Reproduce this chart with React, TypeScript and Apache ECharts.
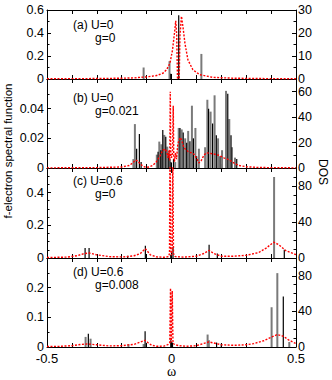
import React, { useEffect, useRef } from 'react';
import * as echarts from 'echarts';

// ---------- data ----------
const xTicksMajor = [-0.5, 0, 0.5];

// (a) U=0, g=0
const aBlack = [[-0.003, 0.045], [0.029, 0.555]];
const aGray = [[-0.112, 0.1], [-0.008, 0.155], [0.12, 0.218]];
const aDos = [
  [-0.5, 0.1], [-0.3, 0.2], [-0.2, 0.35], [-0.15, 0.5], [-0.1, 0.9], [-0.06, 1.5], [-0.033, 2.6],
  [-0.02, 4.0], [-0.006, 6.9], [0.004, 12.6], [0.012, 20], [0.017, 25.3], [0.021, 19], [0.024, 0.3],
  [0.031, 0.3], [0.034, 19], [0.04, 27.3], [0.046, 22.7], [0.054, 15.5], [0.066, 8.3], [0.086, 4.0],
  [0.113, 1.9], [0.166, 0.7], [0.247, 0.35], [0.35, 0.2], [0.5, 0.1],
];

// (b) U=0, g=0.021
const bBlack = [
  [-0.14, 0.013], [-0.129, 0.023], [-0.122, 0.004],
  [-0.054, 0.011], [-0.043, 0.012], [-0.035, 0.0257], [-0.023, 0.021], [-0.011, 0.01], [-0.002, 0.004],
  [0.008, 0.006], [0.034, 0.027], [0.047, 0.024], [0.061, 0.017], [0.074, 0.018], [0.088, 0.02], [0.101, 0.008],
  [0.149, 0.04], [0.165, 0.03], [0.18, 0.022], [0.195, 0.008], [0.226, 0.05], [0.239, 0.022], [0.262, 0.006],
];
const bGray = [
  [-0.153, 0.006], [-0.147, 0.0296],
  [-0.059, 0.009], [-0.049, 0.0178], [-0.041, 0.016], [-0.029, 0.0223], [-0.017, 0.0144], [-0.006, 0.006],
  [0.015, 0.004], [0.029, 0.027], [0.041, 0.026], [0.055, 0.02], [0.067, 0.025], [0.082, 0.042], [0.096, 0.027], [0.11, 0.013],
  [0.135, 0.014], [0.144, 0.046], [0.157, 0.038], [0.173, 0.049], [0.187, 0.02], [0.203, 0.012],
  [0.219, 0.052], [0.232, 0.033], [0.243, 0.014], [0.255, 0.007],
];
const bDos = [
  [-0.5, 0.1], [-0.3, 0.3], [-0.2, 0.8], [-0.17, 2], [-0.155, 4], [-0.145, 6.3], [-0.135, 5.5], [-0.125, 3],
  [-0.11, 1], [-0.1, 0.5], [-0.09, 0.8], [-0.075, 2], [-0.06, 5], [-0.045, 10], [-0.035, 14], [-0.025, 15],
  [-0.018, 12], [-0.014, 8], [-0.01, 14], [-0.007, 6], [-0.005, 60], [-0.003, 10], [0.0, 8], [0.004, 12],
  [0.007, 49], [0.009, 10], [0.012, 5], [0.016, 12], [0.02, 7], [0.025, 18], [0.03, 22], [0.036, 24],
  [0.042, 21], [0.05, 16], [0.06, 14], [0.07, 12.5], [0.08, 12], [0.09, 11], [0.1, 8], [0.11, 4], [0.12, 6],
  [0.13, 10], [0.14, 12], [0.155, 11.5], [0.17, 11], [0.19, 10], [0.21, 8], [0.23, 6.5], [0.25, 4],
  [0.27, 2], [0.3, 1], [0.35, 0.4], [0.5, 0.1],
];

// (c) U=0.6, g=0
const cBlack = [
  [-0.347, 0.061], [-0.331, 0.061], [-0.176, 0.014], [-0.105, 0.075], [-0.003, 0.02], [0.006, 0.065],
  [0.151, 0.081], [0.184, 0.027], [0.453, 0.051],
];
const cGray = [[0.412, 0.495]];
const cDos = [
  [-0.5, 0.5], [-0.42, 1], [-0.38, 2.5], [-0.35, 5], [-0.33, 5.5], [-0.3, 3.5], [-0.25, 1.5], [-0.2, 1.2],
  [-0.176, 1.6], [-0.15, 2.5], [-0.125, 5], [-0.112, 8.5], [-0.105, 10.4], [-0.098, 8], [-0.085, 3.5],
  [-0.06, 1.2], [-0.03, 0.8], [-0.012, 1.5], [-0.008, 5], [-0.006, 130], [-0.003, 10], [0.0, 3], [0.003, 10],
  [0.005, 130], [0.008, 5], [0.015, 1.5], [0.05, 1], [0.1, 2], [0.13, 5], [0.151, 8.5], [0.17, 5], [0.2, 2],
  [0.25, 2], [0.3, 3], [0.35, 6], [0.38, 11], [0.41, 17.5], [0.43, 15], [0.46, 8], [0.5, 3.7],
];

// (d) U=0.6, g=0.008
const dBlack = [
  [-0.334, 0.045], [-0.106, 0.053], [-0.003, 0.023], [0.004, 0.015], [0.181, 0.015], [0.2, 0.011], [0.449, 0.17],
];
const dGray = [
  [-0.345, 0.034], [-0.325, 0.028], [-0.173, 0.01], [-0.112, 0.01], [0.145, 0.042], [0.15, 0.023],
  [0.402, 0.134], [0.425, 0.249], [0.473, 0.017],
];
const dDos = [
  [-0.5, 0.5], [-0.45, 0.8], [-0.4, 1.5], [-0.36, 3], [-0.34, 3.4], [-0.3, 2.5], [-0.25, 1.2], [-0.2, 1.5],
  [-0.15, 3], [-0.125, 5.5], [-0.107, 7.5], [-0.095, 5], [-0.08, 2], [-0.06, 0.8], [-0.03, 1], [-0.015, 2.6],
  [-0.007, 5], [-0.004, 66], [-0.001, 5], [0.001, 5], [0.003, 63], [0.006, 4], [0.015, 2.5], [0.03, 1.5],
  [0.06, 0.8], [0.1, 1.5], [0.13, 4], [0.15, 5.7], [0.17, 4.5], [0.2, 2.5], [0.25, 1.9], [0.3, 2.5],
  [0.33, 3.8], [0.37, 7], [0.4, 11], [0.425, 14], [0.45, 12], [0.47, 8], [0.5, 3.8],
];

const panelLabels = [
  ['(a) U=0', 'g=0'],
  ['(b) U=0', 'g=0.021'],
  ['(c) U=0.6', 'g=0'],
  ['(d) U=0.6', 'g=0.008'],
];
const leftRanges = [[0.6, 0.2, 2], [0.06, 0.02, 2], [0.55, 0.2, 4], [0.3, 0.1, 2]];
const rightRanges = [[30, 10, 2], [70, 20, 2], [100, 40, 4], [100, 40, 4]];
const yTitleLeft = 'f-electron spectral function';
const yTitleRight = 'DOS';
const xTitle = 'ω';

// ---------- layout ----------
const FONT = "'Liberation Sans', Arial, Helvetica, sans-serif";
const gridTops = [10, 79, 168, 258];
const gridHeights = [69, 89, 90, 89];
const labelY = [[24.5, 37.5], [97.5, 110.5], [180.5, 193.5], [271.5, 284.5]];

export default function App() {
  const ref = useRef<HTMLDivElement>(null);
  useEffect(() => {
    if (!ref.current) return;
    const chart = echarts.init(ref.current, undefined, { renderer: 'svg' });
    const blacks = [aBlack, bBlack, cBlack, dBlack];
    const grays = [aGray, bGray, cGray, dGray];
    const doses = [aDos, bDos, cDos, dDos];

    const grid: any[] = [];
    const xAxis: any[] = [];
    const yAxis: any[] = [];
    const series: any[] = [];
    const graphic: any[] = [];

    const stick = (color: string, w: number) => (params: any, api: any) => {
      const p0 = api.coord([api.value(0), 0]);
      const p1 = api.coord([api.value(0), api.value(1)]);
      return {
        type: 'line',
        shape: { x1: p0[0], y1: p0[1], x2: p1[0], y2: p1[1] },
        style: { stroke: color, lineWidth: w },
      };
    };

    for (let i = 0; i < 4; i++) {
      grid.push({ left: 47, width: 249, top: gridTops[i], height: gridHeights[i], containLabel: false });
      const baseX = {
        type: 'value', min: -0.5, max: 0.5, interval: 0.5, gridIndex: i,
        axisLine: { show: true, onZero: false, lineStyle: { color: '#000', width: 1 } },
        axisTick: { show: true, inside: true, length: 5, lineStyle: { color: '#000', width: 1 } },
        minorTick: { show: true, splitNumber: 5, length: 4, lineStyle: { color: '#000', width: 1 } },
        splitLine: { show: false },
      };
      xAxis.push({
        ...baseX, position: 'bottom',
        axisLabel: {
          show: i === 3, color: '#000', fontFamily: FONT, fontSize: 13, margin: 5, lineHeight: 12,
          formatter: (v: number) => {
            const r = Math.round(v * 10) / 10;
            return xTicksMajor.indexOf(r) >= 0 ? String(r) : '';
          },
        },
      });
      xAxis.push({ ...baseX, position: 'top', axisLabel: { show: false } });
      const [lm, li, ls] = leftRanges[i];
      const [rm, ri, rs] = rightRanges[i];
      const baseY = {
        type: 'value', gridIndex: i, min: 0,
        axisLine: { show: true, onZero: false, lineStyle: { color: '#000', width: 1 } },
        axisTick: { show: true, inside: true, length: 4, lineStyle: { color: '#000', width: 1 } },
        splitLine: { show: false },
      };
      yAxis.push({
        ...baseY, position: 'left', max: lm, interval: li,
        minorTick: { show: true, splitNumber: ls, length: 2.5, lineStyle: { color: '#000' } },
        axisLabel: { color: '#000', fontFamily: FONT, fontSize: 12.5, lineHeight: 11, margin: 3, showMaxLabel: i === 0, showMinLabel: true },
      });
      yAxis.push({
        ...baseY, position: 'right', max: rm, interval: ri,
        minorTick: { show: true, splitNumber: rs, length: 2.5, lineStyle: { color: '#000' } },
        axisLabel: { color: '#000', fontFamily: FONT, fontSize: 12.5, lineHeight: 11, margin: 2, showMaxLabel: i === 0, showMinLabel: true },
      });

      series.push({
        type: 'custom', xAxisIndex: 2 * i, yAxisIndex: 2 * i, data: grays[i], clip: true,
        renderItem: stick('#7a7a7a', 2), z: 3,
      });
      series.push({
        type: 'custom', xAxisIndex: 2 * i, yAxisIndex: 2 * i, data: blacks[i], clip: true,
        renderItem: stick('#000000', 1.2), z: 4,
      });
      series.push({
        type: 'line', xAxisIndex: 2 * i, yAxisIndex: 2 * i + 1, data: doses[i], clip: true,
        symbol: 'none', showSymbol: false, z: 5,
        lineStyle: { color: '#ff0000', width: 1.4, type: [2, 1.5] },
      });

      graphic.push({
        type: 'text', x: 73, y: labelY[i][0],
        style: { text: panelLabels[i][0], fontFamily: FONT, fontSize: 12, lineHeight: 12, fill: '#000', align: 'left', verticalAlign: 'middle', textAlign: 'left', textVerticalAlign: 'middle' },
      });
      graphic.push({
        type: 'text', x: 95, y: labelY[i][1],
        style: { text: panelLabels[i][1], fontFamily: FONT, fontSize: 12, lineHeight: 12, fill: '#000', align: 'left', verticalAlign: 'middle', textAlign: 'left', textVerticalAlign: 'middle' },
      });
    }

    graphic.push({
      type: 'text', x: 8, y: 151, rotation: Math.PI / 2,
      style: { text: yTitleLeft, fontFamily: FONT, fontSize: 11.5, fill: '#000', align: 'center', verticalAlign: 'middle', textAlign: 'center', textVerticalAlign: 'middle' },
    });
    graphic.push({
      type: 'text', x: 323, y: 172, rotation: -Math.PI / 2,
      style: { text: yTitleRight, fontFamily: FONT, fontSize: 12, fill: '#000', align: 'center', verticalAlign: 'middle', textAlign: 'center', textVerticalAlign: 'middle' },
    });
    graphic.push({
      type: 'text', x: 171.5, y: 371.5,
      style: { text: xTitle, fontFamily: "'Liberation Serif', 'DejaVu Serif', serif", fontSize: 14, lineHeight: 14, fill: '#000', align: 'center', verticalAlign: 'middle', textAlign: 'center', textVerticalAlign: 'middle' },
    });

    chart.setOption({
      animation: false,
      backgroundColor: '#ffffff',
      grid, xAxis, yAxis, series, graphic,
    });
    return () => chart.dispose();
  }, []);
  return <div ref={ref} style={{ position: 'fixed', left: 0, top: 0, width: 332, height: 380 }} />;
}
